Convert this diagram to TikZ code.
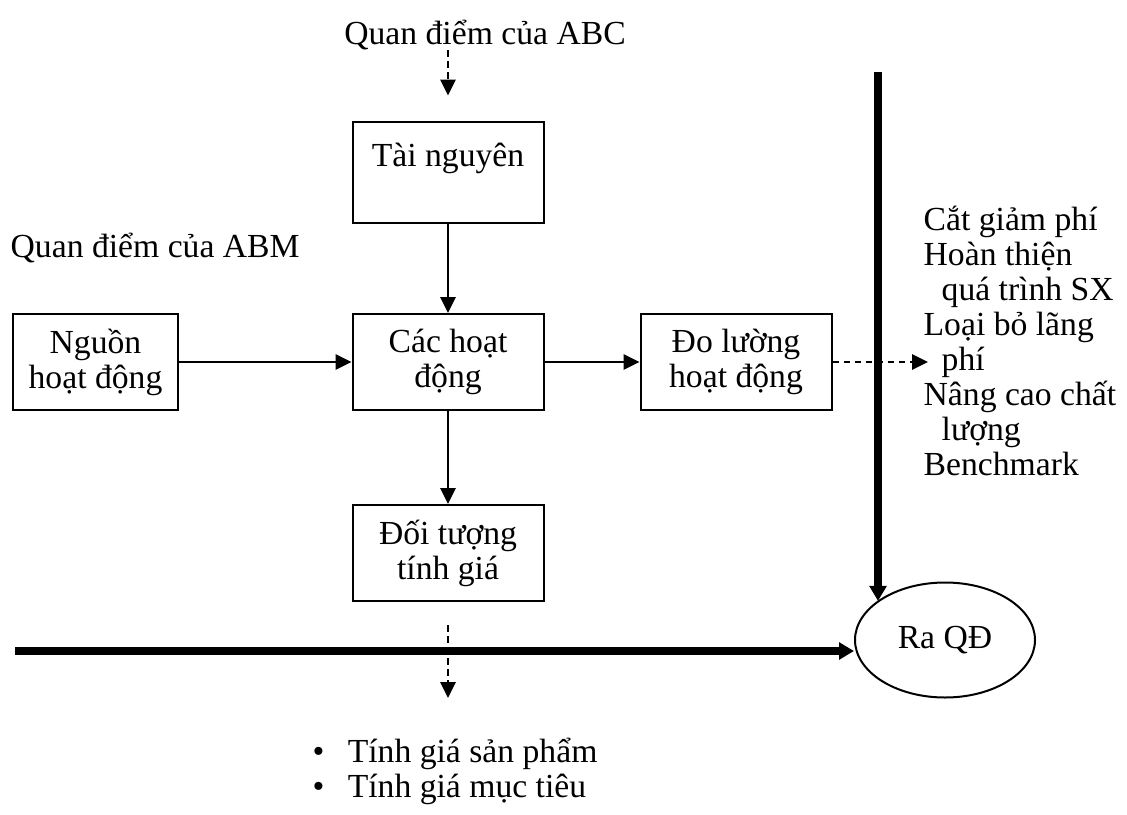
\documentclass[tikz,border=0pt]{standalone}
\usepackage{fontspec}
\setmainfont{Liberation Serif}
\usepackage{tikz}
\usetikzlibrary{arrows.meta, shapes.geometric, calc}

\tikzset{
    blockbox/.style={draw, line width=0.6pt, align=center, inner sep=0pt,
        minimum width=57.3pt, minimum height=28.8pt,
        font=\fontsize{10.1}{10.5}\selectfont},
    plaintext/.style={inner sep=0pt, font=\fontsize{10.1}{10.5}\selectfont},
    flow/.style={line width=0.6pt, -{Triangle[length=4.8pt, width=4.6pt]}},
    dotflow/.style={flow, line width=0.7pt, dash pattern=on 2pt off 1.3pt},
    mainflow/.style={line width=2.3pt, -{Triangle[length=4.5pt, width=5pt]}}
}

\begin{document}
\begin{tikzpicture}[x=0.3pt, y=-0.3pt]
    \useasboundingbox (0,0) rectangle (1127,814);
    % viewpoints
    \node[plaintext] at (485,35) (abc) {Quan điểm của ABC};
    \node[plaintext, anchor=west] at (10,248) (abm) {Quan điểm của ABM};
    % boxes
    \node[blockbox, minimum height=30.3pt] at (448,172) (resource) {Tài nguyên\\\mbox{}};
    \node[blockbox, minimum width=49.5pt] at (95.5,362) (driver) {Nguồn\\hoạt động};
    \node[blockbox] at (448,362) (activity) {Các hoạt\\động};
    \node[blockbox] at (736,362) (measure) {Đo lường\\hoạt động};
    \node[blockbox] at (448,553) (costobj) {Đối tượng\\tính giá};
    \node[draw, ellipse, line width=0.6pt, inner sep=0pt, minimum width=54pt,
        minimum height=34.5pt, font=\fontsize{10.1}{10.5}\selectfont] at (945,640) (decision) {Ra QĐ};
    % lists
    \node[plaintext, anchor=north west, align=left] at (923,205) (uses) {%
        Cắt giảm phí\\
        Hoàn thiện\\
        \hspace*{5.4pt}quá trình SX\\
        Loại bỏ lãng\\
        \hspace*{5.4pt}phí\\
        Nâng cao chất\\
        \hspace*{5.4pt}lượng\\
        Benchmark};
    \node[plaintext, anchor=north west, align=left] at (312,737) (pricing) {%
        \textbullet\hspace{7pt}Tính giá sản phẩm\\
        \textbullet\hspace{7pt}Tính giá mục tiêu};
    \coordinate (abcfoot) at (448,50);
    \coordinate (vtop) at (878,72);
    \coordinate (hleft) at (15,651);
    \coordinate (dotend) at (928,362);
    \coordinate (dotstart) at (448,625);
    \coordinate (dotdown) at (448,698);
    % connectors
    \draw[dotflow] (abcfoot) -- ($(resource.north)+(0,-25)$);
    \draw[flow] (resource) -- (activity);
    \draw[flow] (driver) -- (activity);
    \draw[flow] (activity) -- (measure);
    \draw[flow] (activity) -- (costobj);
    \draw[mainflow] (vtop) -- (vtop |- decision.150);
    \draw[mainflow] (hleft) -- (hleft -| decision.west);
    \draw[dotflow] (measure) -- (dotend);
    \draw[dotflow] (dotstart) -- (dotdown);
\end{tikzpicture}
\end{document}
